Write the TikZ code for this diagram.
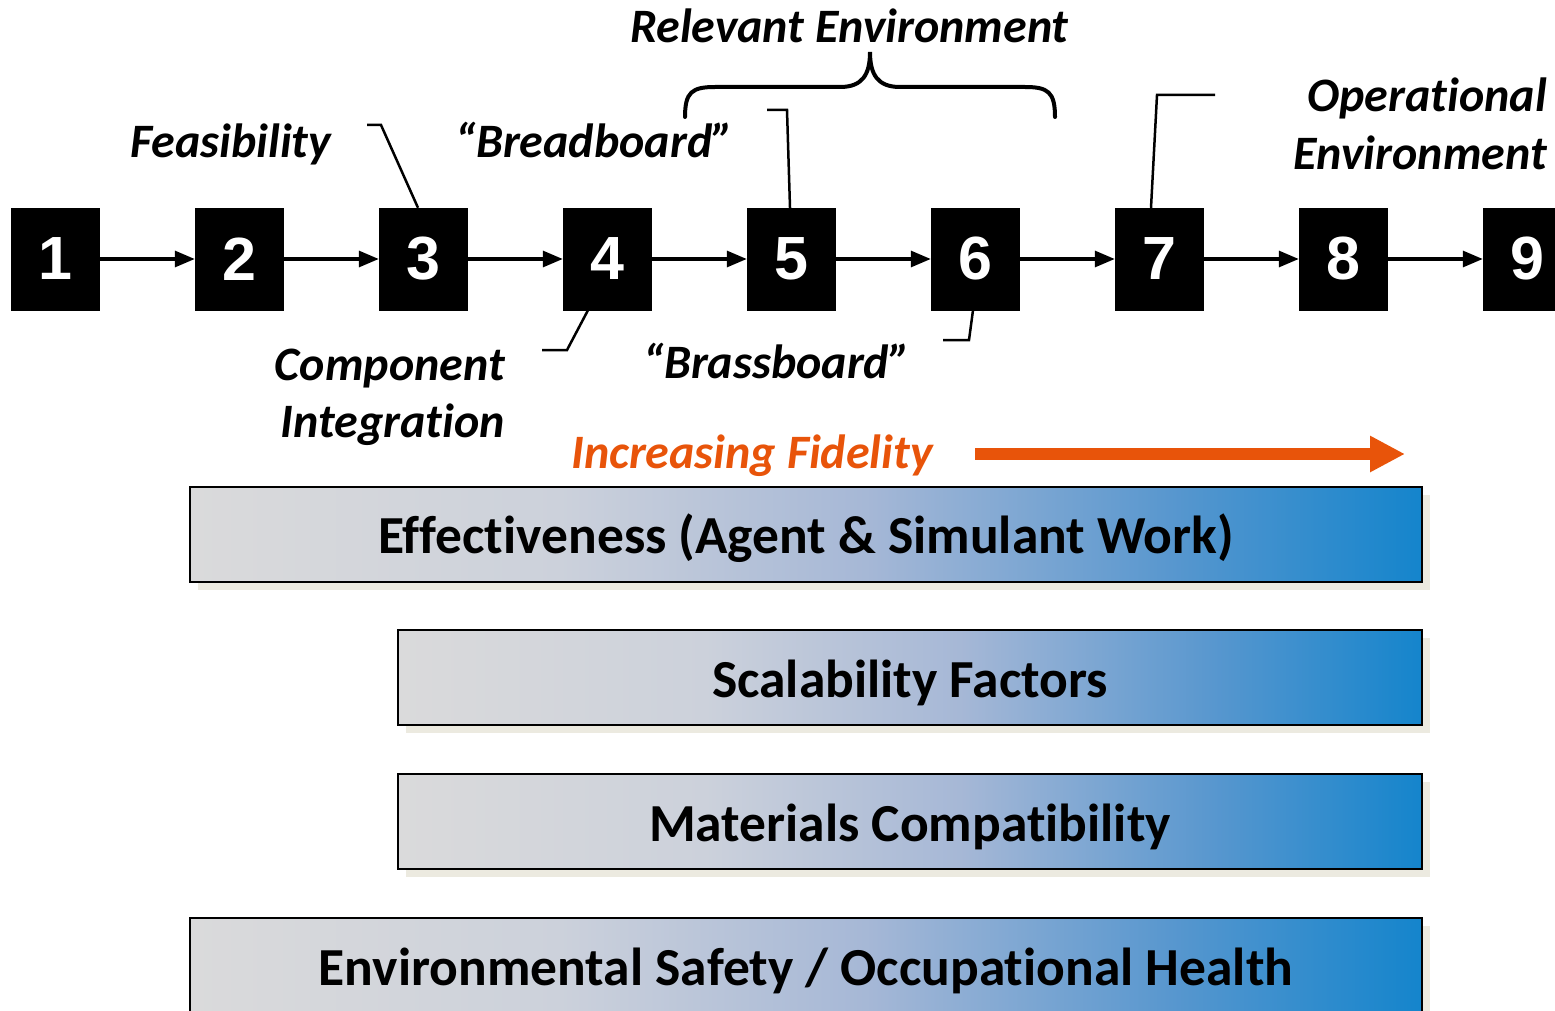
\documentclass[tikz,border=0pt]{standalone}
\usepackage{fontspec}
\setmainfont{Carlito}[Ligatures=NoCommon]
\newfontfamily\numfont{Liberation Sans}
\usetikzlibrary{arrows.meta,calc}
\definecolor{fidorange}{HTML}{E8540A}
\definecolor{shadowc}{HTML}{ECEAE0}
\pgfdeclarehorizontalshading{barshade}{100bp}{rgb(0bp)=(0.855,0.855,0.86); rgb(25bp)=(0.855,0.855,0.86); rgb(40bp)=(0.80,0.82,0.86); rgb(52.5bp)=(0.65,0.72,0.84); rgb(65bp)=(0.34,0.59,0.81); rgb(75bp)=(0.08,0.52,0.80); rgb(100bp)=(0.08,0.52,0.80)}
\tikzset{
  trlbox/.style={draw=black, fill=black, minimum width=88pt, minimum height=102pt, inner sep=0pt, text=white, font=\numfont\bfseries\fontsize{61}{61}\selectfont},
  flowarr/.style={line width=3.2pt, -{Triangle[length=20pt,width=16pt]}},
  leader/.style={line width=2.5pt},
  lbl/.style={font=\bfseries\itshape\fontsize{48}{48}\selectfont, inner sep=0pt},
  bartxt/.style={font=\bfseries\fontsize{53.5}{53.5}\selectfont, inner sep=0pt},
}
\newcommand{\mybar}[4]{%
  \fill[shadowc] (#1+8,#2+8) rectangle (#3+8,#4+8);
  \shade[shading=barshade] (#1,#2) rectangle (#3,#4);
  \draw[line width=2.8pt] (#1,#2) rectangle (#3,#4);
}
\begin{document}
\begin{tikzpicture}[x=1pt,y=-1pt]
\clip (0,0) rectangle (1555,1011);
\useasboundingbox (0,0) rectangle (1555,1011);
% TRL boxes
\foreach \i in {1,...,9}{
  \node[trlbox] (b\i) at ({55+184*(\i-1)},259) {\i};
}
\foreach \i/\j in {1/2,2/3,3/4,4/5,5/6,6/7,7/8,8/9}{
  \draw[flowarr] (b\i.east) -- (b\j.west);
}
% labels
\node[lbl, anchor=base west] (feas) at (130,158) {Feasibility};
\node[lbl, anchor=base west] (bread) at (455,158) {“Breadboard”};
\node[lbl, anchor=base west] (relenv) at (630,43) {Relevant Environment};
\node[lbl, anchor=base east] (comp) at (505,380) {Component};
\node[lbl, anchor=base east] (integ) at (505,437) {Integration};
\node[lbl, anchor=base west] (brass) at (643,378) {“Brassboard”};
\node[lbl, anchor=base east] (oper) at (1547,112) {Operational};
\node[lbl, anchor=base east] (openv) at (1547,170) {Environment};
\node[lbl, anchor=base west, text=fidorange] (fid) at (571,468) {Increasing Fidelity};
% leaders
\coordinate (l3) at (367,125);
\draw[leader] (l3) -- (381,125) -- ($(b3.north)+(-5,0)$);
\coordinate (l5) at (767,110);
\draw[leader] (l5) -- (787,110) -- ($(b5.north)+(-1,0)$);
\coordinate (l4) at (542,350);
\draw[leader] (l4) -- (567,350) -- ($(b4.south)+(-19,0)$);
\coordinate (l6) at (943,340);
\draw[leader] (l6) -- (969,340) -- ($(b6.south)+(-2,0)$);
\coordinate (l7) at (1215,95);
\draw[leader] (l7) -- (1157,95) -- ($(b7.north)+(-8,0)$);
% brace
\draw[line width=4pt, line cap=round] (685,117) .. controls (685,92) and (692,87) .. (715,87) -- (840,87) .. controls (862,87) and (870,75) .. (870,52) .. controls (870,75) and (878,87) .. (900,87) -- (1025,87) .. controls (1048,87) and (1055,92) .. (1055,117);
% fidelity arrow
\coordinate (fa0) at (975,454);
\coordinate (fa1) at (1405,454);
\draw[fidorange, line width=12pt, -{Triangle[length=35pt,width=34pt]}] (fa0) -- (fa1);
% bars
\mybar{190}{487}{1422}{582}
\mybar{398}{630}{1422}{725}
\mybar{398}{774}{1422}{869}
\mybar{190}{918}{1422}{1030}
\node[bartxt, anchor=base] (t1) at (806,553) {Effectiveness (Agent \& Simulant Work)};
\node[bartxt, anchor=base] (t2) at (910,697) {Scalability Factors};
\node[bartxt, anchor=base] (t3) at (910,841) {Materials Compatibility};
\node[bartxt, anchor=base] (t4) at (806,985) {Environmental Safety / Occupational Health};
\end{tikzpicture}
\end{document}
